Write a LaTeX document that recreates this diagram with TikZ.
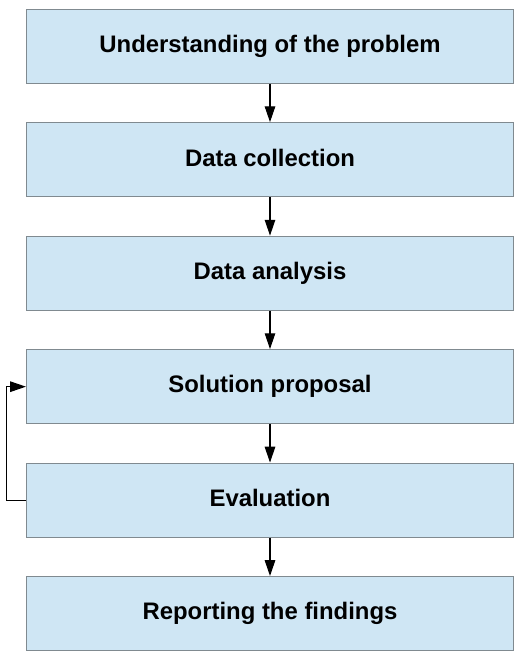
\documentclass[tikz,border=0pt]{standalone}
\usepackage{fontspec}
\setmainfont{Liberation Sans}
\usetikzlibrary{arrows.meta,positioning}
\definecolor{boxblue}{RGB}{207,230,244}
\definecolor{boxgray}{RGB}{128,138,144}

\begin{document}
\begin{tikzpicture}[x=0.02cm,y=-0.02cm,>={Triangle[length=9pt,width=6pt]},
	stage/.style={draw=boxgray,fill=boxblue,line width=0.7pt,minimum width=9.74cm,minimum height=1.48cm,
		font=\bfseries\fontsize{13.6}{16}\selectfont,text height=0.72em,text depth=0pt},
	flow/.style={->,line width=0.6pt},
	node distance=0.765cm]
	\useasboundingbox (0,0) rectangle (529,662);
	% process stages
	\node[stage] (problem) at (270,46.3) {Understanding of the problem};
	\node[stage,below=of problem] (collect) {Data collection};
	\node[stage,below=of collect] (analysis) {Data analysis};
	\node[stage,below=of analysis] (proposal) {Solution proposal};
	\node[stage,below=of proposal] (eval) {Evaluation};
	\node[stage,below=of eval] (report) {Reporting the findings};
	
	\draw[flow] (problem) -- (collect);
	\draw[flow] (collect) -- (analysis);
	\draw[flow] (analysis) -- (proposal);
	\draw[flow] (proposal) -- (eval);
	\draw[flow] (eval) -- (report);
	% feedback loop
	\draw[flow] (eval.west) -- ++(-19,0) |- (proposal.west);
\end{tikzpicture}
\end{document}
